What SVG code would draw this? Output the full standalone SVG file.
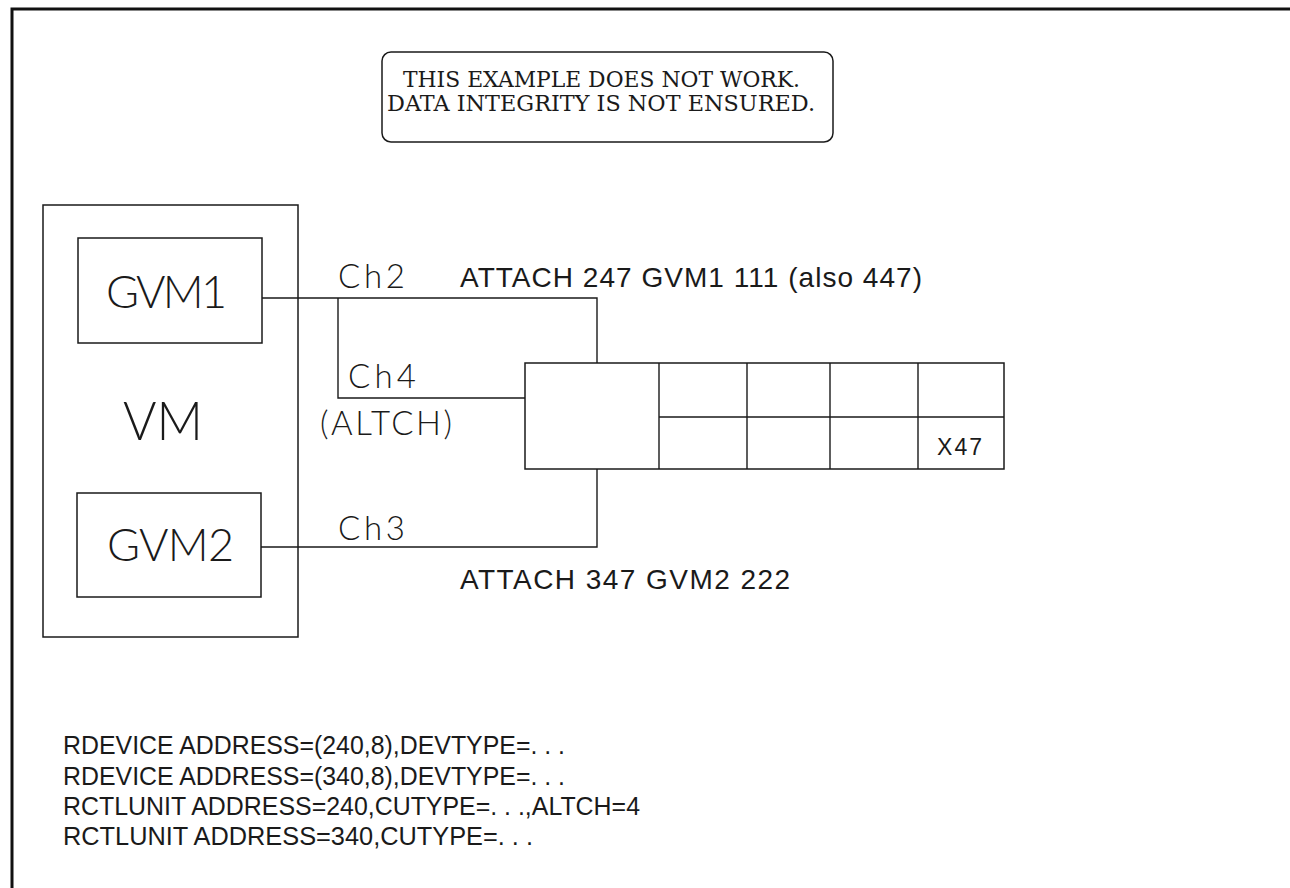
<svg xmlns="http://www.w3.org/2000/svg" width="1290" height="888" viewBox="0 0 1290 888">
<style>
.b{fill:none;stroke:#1a1a1a;stroke-width:1.5}
.c{fill:none;stroke:#1a1a1a;stroke-width:1.4}
.lt{font-family:Lato,"Liberation Sans",sans-serif;font-weight:300;fill:#1a1a1a}
.at{font-family:"Liberation Sans",Arial,sans-serif;fill:#1a1a1a}
.sf{font-family:"DejaVu Serif","Liberation Serif",serif;fill:#1a1a1a;font-size:22px}
</style>
<rect width="1290" height="888" fill="#fff"/>
<path d="M12,888 V9 H1290" fill="none" stroke="#111" stroke-width="3"/>
<g id="note">
<rect class="b" x="382" y="52" width="451" height="90" rx="9"/>
<text class="sf" x="403" y="87" textLength="397" lengthAdjust="spacingAndGlyphs">THIS EXAMPLE DOES NOT WORK.</text>
<text class="sf" x="387" y="111" textLength="428" lengthAdjust="spacingAndGlyphs">DATA INTEGRITY IS NOT ENSURED.</text>
</g>
<g id="vm">
<rect class="b" x="43" y="205" width="255" height="432"/>
<text class="lt" x="123" y="440" font-size="54" textLength="80" lengthAdjust="spacingAndGlyphs">VM</text>
</g>
<g id="gvm1">
<rect class="b" x="78" y="238" width="184" height="105"/>
<text class="lt" x="106" y="308" font-size="45" textLength="121" lengthAdjust="spacing">GVM1</text>
</g>
<g id="gvm2">
<rect class="b" x="77" y="493" width="184" height="104"/>
<text class="lt" x="107" y="561" font-size="45" textLength="127" lengthAdjust="spacing">GVM2</text>
</g>
<g id="device">
<rect class="b" x="525" y="363" width="479" height="106"/>
<path class="c" d="M659,363 V469 M747,363 V469 M830,363 V469 M918,363 V469 M659,417 H1004"/>
<text class="at" x="937" y="455" font-size="23" textLength="45" lengthAdjust="spacing">X47</text>
</g>
<g id="connectors">
<path class="c" d="M262,298 H597 V363"/>
<path class="c" d="M338,298 V398 H525"/>
<path class="c" d="M261,547 H597 V469"/>
</g>
<g id="labels">
<text class="lt" x="338" y="288" font-size="33" textLength="67" lengthAdjust="spacing">Ch2</text>
<text class="lt" x="348" y="388" font-size="33" textLength="68" lengthAdjust="spacing">Ch4</text>
<text class="lt" x="320" y="435" font-size="33" textLength="132" lengthAdjust="spacing">(ALTCH)</text>
<text class="lt" x="338" y="540" font-size="33" textLength="67" lengthAdjust="spacing">Ch3</text>
<text class="at" x="460" y="287" font-size="28" textLength="462" lengthAdjust="spacing">ATTACH 247 GVM1 111 (also 447)</text>
<text class="at" x="460" y="589" font-size="28" textLength="330" lengthAdjust="spacing">ATTACH 347 GVM2 222</text>
</g>
<g id="config" class="at" font-size="25">
<text x="63" y="754" textLength="502" lengthAdjust="spacingAndGlyphs">RDEVICE ADDRESS=(240,8),DEVTYPE=. . .</text>
<text x="63" y="785" textLength="502" lengthAdjust="spacingAndGlyphs">RDEVICE ADDRESS=(340,8),DEVTYPE=. . .</text>
<text x="63" y="815" textLength="577" lengthAdjust="spacingAndGlyphs">RCTLUNIT ADDRESS=240,CUTYPE=. . .,ALTCH=4</text>
<text x="63" y="845" textLength="470" lengthAdjust="spacingAndGlyphs">RCTLUNIT ADDRESS=340,CUTYPE=. . .</text>
</g>
</svg>
